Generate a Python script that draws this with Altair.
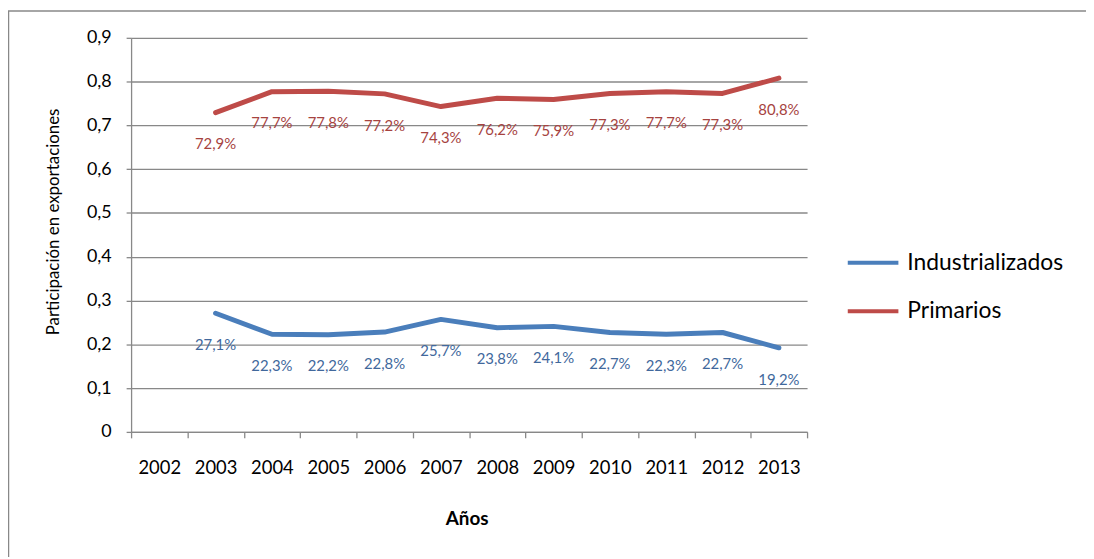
import altair as alt
import pandas as pd

years = [str(y) for y in range(2002, 2014)]
data_years = [str(y) for y in range(2003, 2014)]
industrializados = [0.271, 0.223, 0.222, 0.228, 0.257, 0.238, 0.241, 0.227, 0.223, 0.227, 0.192]
primarios = [0.729, 0.777, 0.778, 0.772, 0.743, 0.762, 0.759, 0.773, 0.777, 0.773, 0.808]
series = ["Industrializados", "Primarios"]
line_colors = ["#4A7EBB", "#BE4B48"]
label_colors = ["#41689C", "#A6433F"]
y_ticks = [0, 0.1, 0.2, 0.3, 0.4, 0.5, 0.6, 0.7, 0.8, 0.9]

FONT = "Lato"
GRAY = "#888888"

rows = []
for s, vals in zip(series, [industrializados, primarios]):
    for yr, v in zip(data_years, vals):
        rows.append({"year": yr, "value": v, "serie": s,
                     "label": f"{v * 100:.1f}%".replace(".", ",")})
df = pd.DataFrame(rows)

x_enc = alt.X(
    "year:O",
    bandPosition=0.5,
    scale=alt.Scale(type="band", domain=years, paddingInner=0, paddingOuter=0),
    axis=alt.Axis(
        title="Años", titleFont=FONT, titleFontSize=19, titleFontWeight="bold",
        titleColor="#000000", titleX=338, titleY=87, titleBaseline="middle",
        titleAlign="center",
        labelFont=FONT, labelFontSize=18.5, labelColor="#000000", labelPadding=21,
        labelAngle=0, tickBand="extent", tickSize=6, tickColor=GRAY,
        tickWidth=1.3, domainColor=GRAY, domainWidth=1.3, grid=False,
    ),
)
y_enc = alt.Y(
    "value:Q",
    scale=alt.Scale(domain=[0, 0.9], nice=False, zero=True),
    axis=alt.Axis(
        values=y_ticks,
        labelExpr="datum.value == 0 ? '0' : replace(format(datum.value, '.1f'), '.', ',')",
        title="Participación en exportaciones", titleFont=FONT, titleFontSize=17,
        titleFontWeight="normal", titleColor="#000000", titleAngle=270,
        titleX=-78, titleY=185, titleAlign="center", titleBaseline="middle",
        labelFont=FONT, labelFontSize=18, labelColor="#000000", labelPadding=15,
        tickSize=5, tickColor=GRAY, tickWidth=1.3, domainColor=GRAY,
        domainWidth=1.3, grid=True, gridColor=GRAY, gridWidth=1.3,
    ),
)

lines = alt.Chart(df).mark_line(strokeWidth=5, strokeCap="round", strokeJoin="round").encode(
    x=x_enc,
    y=y_enc,
    color=alt.Color(
        "serie:N",
        scale=alt.Scale(domain=series, range=line_colors),
        legend=alt.Legend(
            orient="none", legendX=720, legendY=199, title=None,
            symbolType="stroke", symbolSize=2601, symbolStrokeWidth=4,
            labelFont=FONT, labelFontSize=23, labelColor="#000000",
            labelOffset=7, rowPadding=9, padding=0,
        ),
    ),
)

texts = []
for s, c in zip(series, label_colors):
    texts.append(
        alt.Chart(df).transform_filter(alt.datum.serie == s)
        .mark_text(font=FONT, fontSize=15, dy=32, color=c)
        .encode(x=alt.X("year:O", bandPosition=0.5,
                        scale=alt.Scale(type="band", domain=years, paddingInner=0, paddingOuter=0)),
                y=alt.Y("value:Q"), text="label:N")
    )

frame_data = alt.Data(values=[{"k": 1}])
border_v = alt.Chart(frame_data).mark_rule(color=GRAY, strokeWidth=1.5).encode(
    x=alt.value(-123.5), y=alt.value(-27), y2=alt.value(530))
border_h = alt.Chart(frame_data).mark_rule(color=GRAY, strokeWidth=1.5).encode(
    x=alt.value(-124), x2=alt.value(970), y=alt.value(-27))

chart = alt.layer(border_v, border_h, lines, *texts).properties(
    width=681, height=397,
    autosize=alt.AutoSizeParams(type="none"),
    padding={"left": 124, "top": 28, "right": 281, "bottom": 124},
    background="#ffffff",
).configure_view(stroke=None)

chart.save("out.html", embed_options={"renderer": "svg", "actions": False})
